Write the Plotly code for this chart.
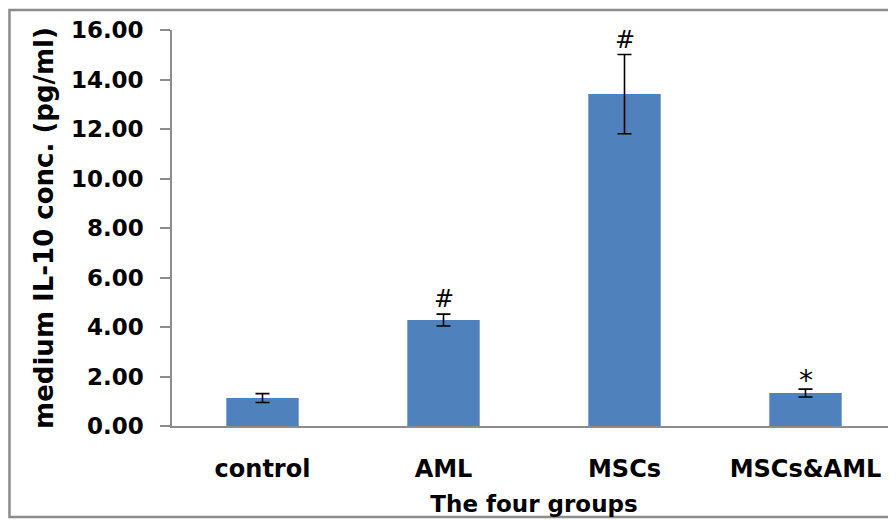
import plotly.graph_objects as go

groups = ["control", "AML", "MSCs", "MSCs&AML"]
means = [1.13, 4.28, 13.41, 1.33]
errors = [0.18, 0.24, 1.60, 0.16]
marks = ["", "#", "#", "*"]
y_ticks = [0, 2, 4, 6, 8, 10, 12, 14, 16]

BLUE = "#4F81BD"
GRAY = "#8C8C8C"
FONT = "DejaVu Sans"

fig = go.Figure()
fig.add_trace(go.Bar(
    x=groups, y=means,
    marker=dict(color=BLUE, line=dict(width=0)),
    error_y=dict(type="data", array=errors, visible=True,
                 color="black", thickness=1.6, width=7),
))

for g, m, e, s in zip(groups, means, errors, marks):
    if s:
        fig.add_annotation(
            x=g, y=m + e, text=s, showarrow=False,
            yanchor="bottom", yshift=-1 if s == "#" else -10,
            font=dict(family=FONT, size=24 if s == "#" else 28, color="black"),
        )

# outer chart border (right edge falls outside the visible picture)
fig.add_shape(type="rect", xref="paper", yref="paper",
              x0=-0.2245, x1=1.06, y0=-0.2298, y1=1.0505,
              line=dict(color=GRAY, width=2.5))

fig.update_layout(
    width=888, height=512,
    margin=dict(l=164, r=0, t=22, b=94),
    plot_bgcolor="white", paper_bgcolor="white",
    bargap=0.6, showlegend=False,
    xaxis=dict(
        range=[-0.5, 3.5], showline=True, linecolor=GRAY, linewidth=1.5,
        ticks="", showgrid=False, zeroline=False,
        tickfont=dict(family=FONT, size=24, color="black", weight="bold"),
        ticklabelstandoff=20,
        title=dict(text="The four groups", standoff=14,
                   font=dict(family=FONT, size=23, color="black", weight="bold")),
    ),
    yaxis=dict(
        range=[0, 16], tickvals=y_ticks, tickformat=".2f",
        showline=True, linecolor=GRAY, linewidth=1.5,
        ticks="outside", ticklen=10, tickcolor=GRAY, tickwidth=1.5,
        showgrid=False, zeroline=False,
        tickfont=dict(family=FONT, size=23, color="black", weight="bold"),
        ticklabelstandoff=12,
        title=dict(text="medium IL-10 conc. (pg/ml)", standoff=10,
                   font=dict(family=FONT, size=26, color="black", weight="bold")),
    ),
)

fig.write_html("out.html")
